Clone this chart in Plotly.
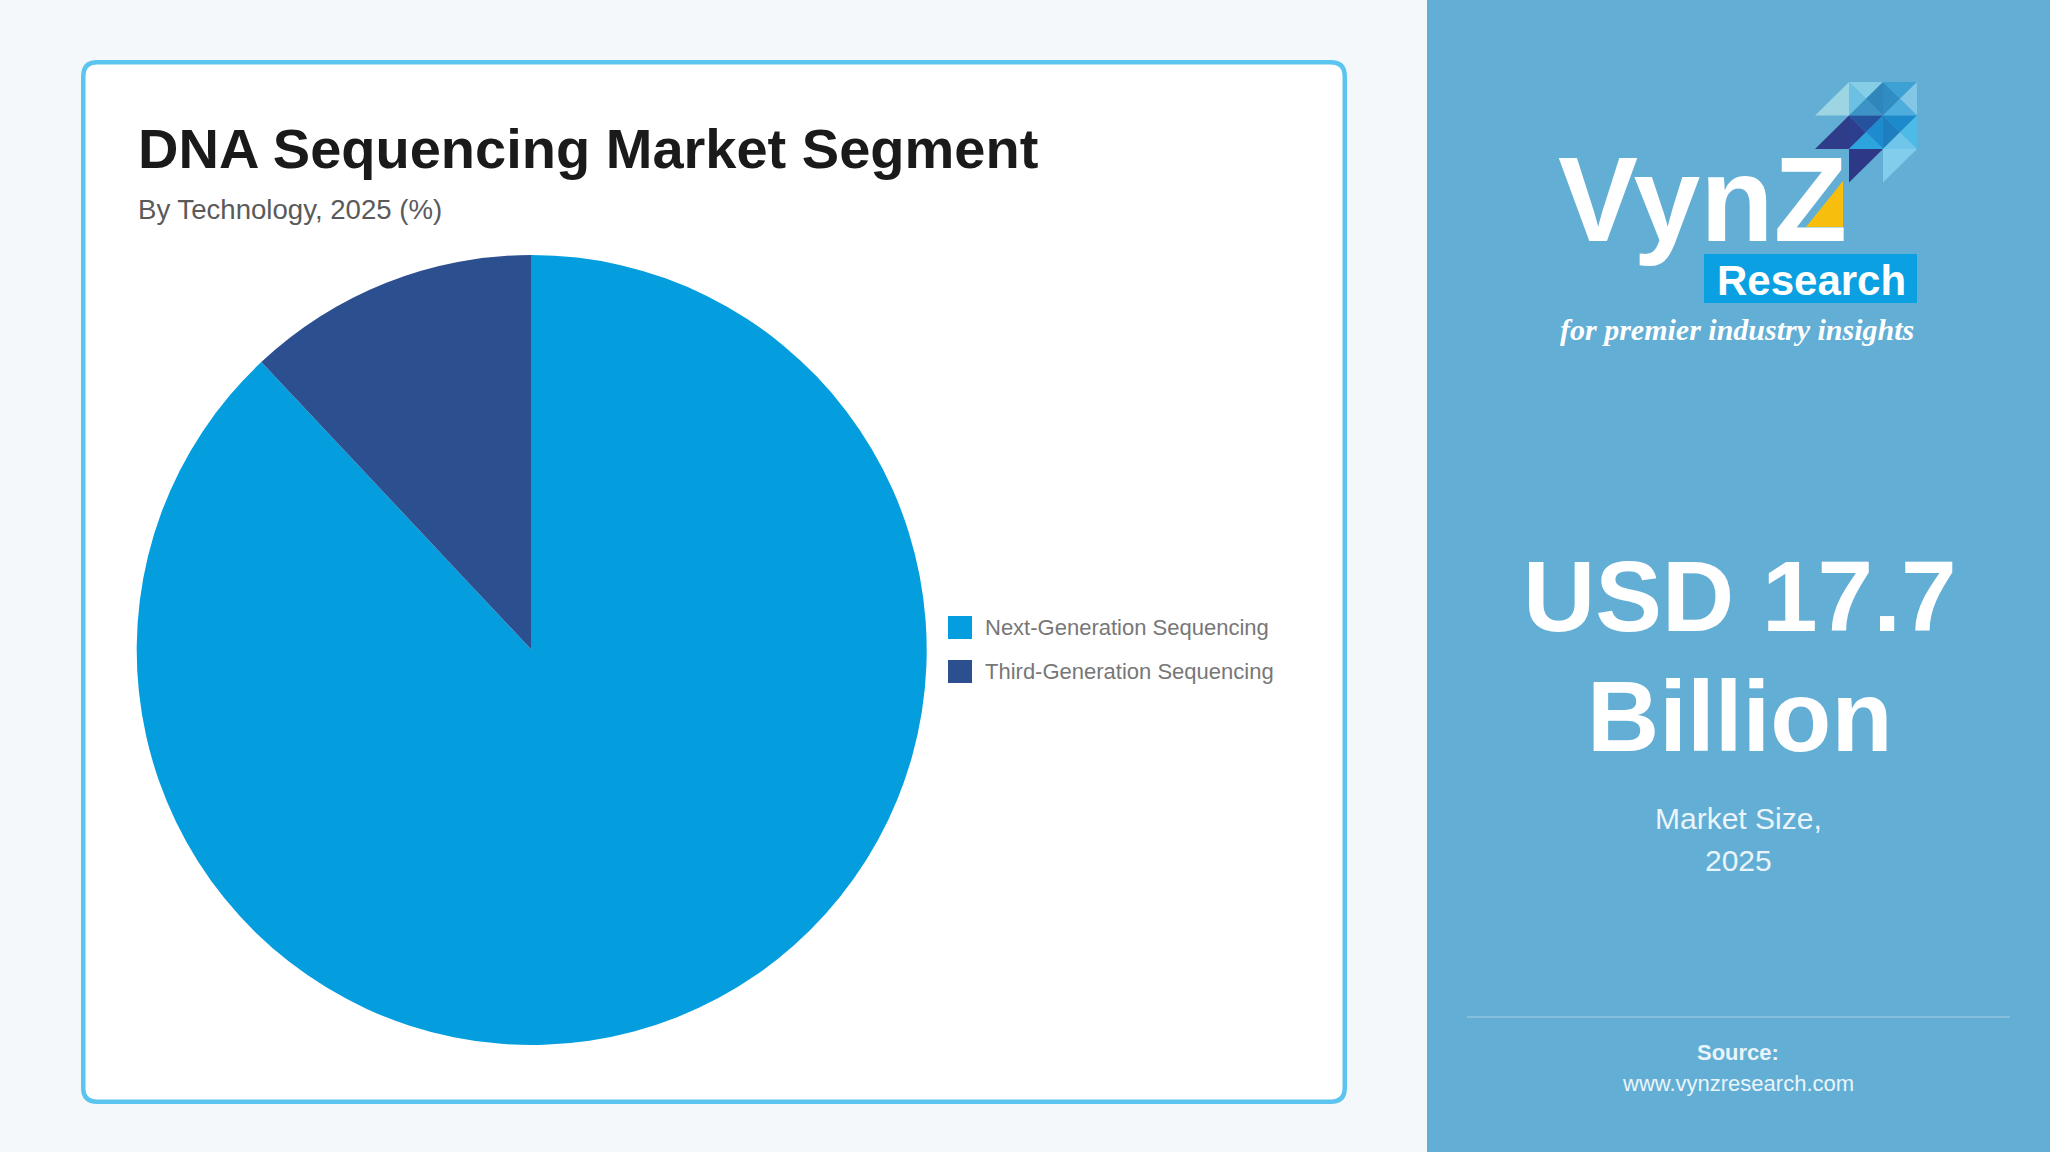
import plotly.graph_objects as go

# ---------------- data ----------------
segments = ["Next-Generation Sequencing", "Third-Generation Sequencing"]
shares = [88, 12]
seg_colors = ["#049EDF", "#2B4F8F"]

title_text = "DNA Sequencing Market Segment"
subtitle_text = "By Technology, 2025 (%)"
market_value_lines = ["USD 17.7", "Billion"]
market_label_lines = ["Market Size,", "2025"]
source_label = "Source:"
source_url = "www.vynzresearch.com"

# ---------------- layout helpers ----------------
W, H = 2050, 1152
FONT = "Liberation Sans, Arial, sans-serif"


def px(x):
    return x / W


def py(y):
    return 1 - y / H


shapes = []
annotations = []


def rect(x0, y0, x1, y1, color, layer="below"):
    shapes.append(dict(type="rect", xref="paper", yref="paper",
                       x0=px(x0), x1=px(x1), y0=py(y1), y1=py(y0),
                       fillcolor=color, line=dict(width=0), layer=layer))


def poly(points, color, layer="below"):
    d = "M " + " L ".join(f"{px(x):.6f},{py(y):.6f}" for x, y in points) + " Z"
    shapes.append(dict(type="path", xref="paper", yref="paper", path=d,
                       fillcolor=color, line=dict(width=0), layer=layer))


def text(x, y, s, size, color, bold=False, anchor="left", family=FONT):
    annotations.append(dict(xref="paper", yref="paper", x=px(x), y=py(y),
                            text=(f"<b>{s}</b>" if bold else s),
                            showarrow=False, xanchor=anchor, yanchor="middle",
                            font=dict(size=size, color=color, family=family)))


# right panel
rect(1427, 0, W, H, "#62AED5")

# card with rounded corners
cx0, cy0, cx1, cy1, r = 83.25, 62.25, 1344.75, 1101.75, 14


def P(x, y):
    return f"{px(x):.6f},{py(y):.6f}"


card_path = (f"M {P(cx0 + r, cy0)} L {P(cx1 - r, cy0)} Q {P(cx1, cy0)} {P(cx1, cy0 + r)} "
             f"L {P(cx1, cy1 - r)} Q {P(cx1, cy1)} {P(cx1 - r, cy1)} "
             f"L {P(cx0 + r, cy1)} Q {P(cx0, cy1)} {P(cx0, cy1 - r)} "
             f"L {P(cx0, cy0 + r)} Q {P(cx0, cy0)} {P(cx0 + r, cy0)} Z")
shapes.append(dict(type="path", xref="paper", yref="paper", path=card_path,
                   fillcolor="#FFFFFF", line=dict(color="#5BC5F0", width=4.5),
                   layer="below"))

# titles
text(136, 148, title_text, 56, "#1A1A1A", bold=True)
text(136, 209, subtitle_text, 27.6, "#5A5A5A")

# custom legend (built from the data arrays)
for i, (lab, col) in enumerate(zip(segments, seg_colors)):
    yc = 627.5 + 44 * i
    rect(948, yc - 11.5, 972, yc + 11.5, col)
    text(983, yc, lab, 22, "#777777")

# ---------------- logo ----------------
mx0, my0, cs, ch = 1815, 82, 34, 33.5


def cell_tri(row, col, part, color):
    x0 = mx0 + col * cs
    y0 = my0 + row * ch
    TL, TR = (x0, y0), (x0 + cs, y0)
    BL, BR = (x0, y0 + ch), (x0 + cs, y0 + ch)
    C = (x0 + cs / 2, y0 + ch / 2)
    pts = {"T": [TL, TR, C], "L": [TL, BL, C], "R": [TR, BR, C],
           "B": [BL, BR, C], "LR": [BL, TR, BR], "UL": [TL, TR, BL]}[part]
    poly(pts, color)


mosaic = [
    (0, 0, "LR", "#9DD5E2"),
    (0, 1, "T", "#86CDE6"), (0, 1, "L", "#6BC0E3"), (0, 1, "R", "#2E86BB"), (0, 1, "B", "#3B93C6"),
    (0, 2, "T", "#3EA1D3"), (0, 2, "L", "#2F8DC4"), (0, 2, "R", "#83C6E5"), (0, 2, "B", "#4DADDD"),
    (1, 0, "LR", "#2F3C8A"),
    (1, 1, "T", "#25529F"), (1, 1, "L", "#2B3F8E"), (1, 1, "R", "#1E8BCF"), (1, 1, "B", "#2CA5DE"),
    (1, 2, "T", "#1C8ACB"), (1, 2, "L", "#1E7EC0"), (1, 2, "R", "#4DBBE8"), (1, 2, "B", "#6FC6EA"),
    (2, 1, "UL", "#2D3886"),
    (2, 2, "UL", "#80CDEC"),
]
for m in mosaic:
    cell_tri(*m)

text(1556, 199, "VynZ", 120, "#FFFFFF", bold=True)
poly([(1843, 181), (1843, 227), (1806, 227)], "#F7BE0E", layer="above")
rect(1704, 254, 1917, 303, "#0AA0E2")
text(1811, 280, "Research", 42, "#FFFFFF", bold=True, anchor="center")
text(1737, 329, "<i>for premier industry insights</i>", 30, "#FFFFFF", bold=True,
     anchor="center", family="Liberation Serif, Times New Roman, serif")

# ---------------- market size ----------------
text(1740, 596, market_value_lines[0], 100, "#FFFFFF", bold=True, anchor="center")
text(1740, 716, market_value_lines[1], 100, "#FFFFFF", bold=True, anchor="center")
text(1738, 818, market_label_lines[0], 30, "#EAF5FB", anchor="center")
text(1738, 860, market_label_lines[1], 30, "#EAF5FB", anchor="center")

shapes.append(dict(type="line", xref="paper", yref="paper",
                   x0=px(1467), x1=px(2010), y0=py(1017), y1=py(1017),
                   line=dict(color="rgba(255,255,255,0.22)", width=2), layer="below"))
text(1738, 1052, source_label, 22, "#EAF5FB", bold=True, anchor="center")
text(1738, 1083, source_url, 22, "#EAF5FB", anchor="center")

# ---------------- pie ----------------
pcx, pcy, pr = 531.7, 650, 395
fig = go.Figure(go.Pie(
    labels=segments, values=shares, sort=False, direction="clockwise",
    rotation=0, marker=dict(colors=seg_colors, line=dict(width=0)),
    textinfo="none", showlegend=False,
    domain=dict(x=[px(pcx - pr), px(pcx + pr)], y=[py(pcy + pr), py(pcy - pr)]),
))

fig.update_layout(
    width=W, height=H, margin=dict(l=0, r=0, t=0, b=0),
    paper_bgcolor="#F4F8FB", plot_bgcolor="#F4F8FB",
    shapes=shapes, annotations=annotations, showlegend=False,
)

fig.write_html("out.html", config={"displayModeBar": False},
               post_script="document.body.style.margin='0';document.body.style.padding='0';")
